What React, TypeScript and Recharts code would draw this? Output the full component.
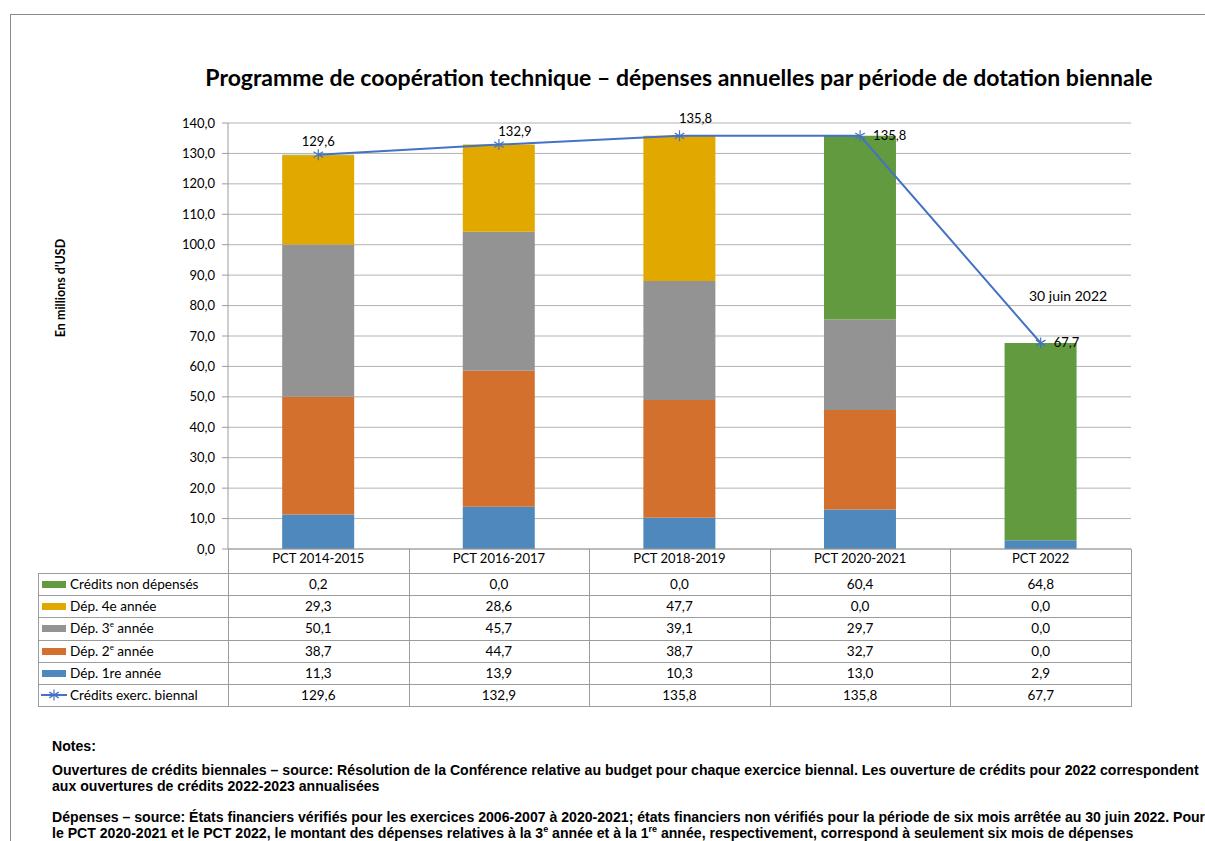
import React from "react";
import { ComposedChart, Bar, Line, XAxis, YAxis, CartesianGrid, LabelList } from "recharts";

const periods = ["PCT 2014-2015", "PCT 2016-2017", "PCT 2018-2019", "PCT 2020-2021", "PCT 2022"];
const dep1 = [11.3, 13.9, 10.3, 13.0, 2.9];
const dep2 = [38.7, 44.7, 38.7, 32.7, 0.0];
const dep3 = [50.1, 45.7, 39.1, 29.7, 0.0];
const dep4 = [29.3, 28.6, 47.7, 0.0, 0.0];
const nonDep = [0.2, 0.0, 0.0, 60.4, 64.8];
const credits = [129.6, 132.9, 135.8, 135.8, 67.7];
const yTicks = [0, 10, 20, 30, 40, 50, 60, 70, 80, 90, 100, 110, 120, 130, 140];

const C = {
  d1: "#4F88BD",
  d2: "#D4702D",
  d3: "#939393",
  d4: "#E1A800",
  nd: "#629B3F",
  line: "#4472C4",
  grid: "#B3B3B3",
  border: "#9C9C9C",
};

const FONT = "Lato, 'Open Sans', sans-serif";
const NOTE_FONT = "'Liberation Sans Narrow', 'Liberation Sans', Arial, sans-serif";

const fmt = (v: number) => v.toFixed(1).replace(".", ",");

const data = periods.map((p, i) => ({
  period: p,
  d1: dep1[i],
  d2: dep2[i],
  d3: dep3[i],
  d4: dep4[i],
  nd: nonDep[i],
  credits: credits[i],
}));

const supStyle = { fontSize: 8, lineHeight: 0 };

// table rows, top to bottom
const rows = [
  { label: <>Crédits non dépensés</>, values: nonDep, color: C.nd, line: false },
  { label: <>Dép. 4e année</>, values: dep4, color: C.d4, line: false },
  { label: <>Dép. 3<sup style={supStyle}>e</sup> année</>, values: dep3, color: C.d3, line: false },
  { label: <>Dép. 2<sup style={supStyle}>e</sup> année</>, values: dep2, color: C.d2, line: false },
  { label: <>Dép. 1re année</>, values: dep1, color: C.d1, line: false },
  { label: <>Crédits exerc. biennal</>, values: credits, color: C.line, line: true },
];

// label placement per point: [dx, dy, anchor]
const labelPos: [number, number, string][] = [
  [0, -12, "middle"],
  [16, -12, "middle"],
  [16, -16, "middle"],
  [13, 1, "start"],
  [13, 1, "start"],
];

const Star = (props: any) => {
  const { cx, cy } = props;
  if (cx == null || cy == null) return null;
  const r = 5.5;
  const d = 4.8;
  return (
    <g stroke={C.line} strokeWidth={1.2}>
      <line x1={cx} y1={cy - r} x2={cx} y2={cy + r} />
      <line x1={cx - d} y1={cy - d * 0.6} x2={cx + d} y2={cy + d * 0.6} />
      <line x1={cx - d} y1={cy + d * 0.6} x2={cx + d} y2={cy - d * 0.6} />
    </g>
  );
};

const PointLabel = (props: any) => {
  const { x, y, index, value } = props;
  const [dx, dy, anchor] = labelPos[index] || [0, -12, "middle"];
  return (
    <text x={x + dx} y={y + dy} textAnchor={anchor as any} dominantBaseline="middle" fontSize={13} fontFamily={FONT} fill="#000">
      {fmt(value)}
    </text>
  );
};

const plotLeft = 228;
const plotRight = 1131;
const colW = (plotRight - plotLeft) / periods.length;
const tableLeft = 38;
const headerTop = 549;
const rowTop = 573;
const rowH = 22.2;

export default function App() {
  const tableBottom = rowTop + rows.length * rowH;
  return (
    <div style={{ position: "relative", width: 1205, height: 841, overflow: "hidden", background: "#fff", fontFamily: FONT }}>
      <style>{"body{margin:0}"}</style>
      <div style={{ position: "absolute", left: 10, top: 14, width: 1300, height: 1000, borderTop: "1px solid #8A8A8A", borderLeft: "1px solid #8A8A8A" }} />

      <div style={{ position: "absolute", left: 0, width: 1358, top: 62, lineHeight: "30px", textAlign: "center", fontWeight: 700, fontSize: 23, whiteSpace: "nowrap" }}>
        Programme de coopération technique – dépenses annuelles par période de dotation biennale
      </div>

      <div style={{ position: "absolute", left: 60, top: 288, transform: "translate(-50%, -50%) rotate(-90deg)", fontWeight: 700, fontSize: 12.5, whiteSpace: "nowrap" }}>
        En millions d’USD
      </div>

      <div style={{ position: "absolute", left: 0, top: 0 }}>
        <ComposedChart width={1205} height={580} data={data} margin={{ top: 123, right: 74, bottom: 7, left: 168 }} barCategoryGap="30%">
          <CartesianGrid vertical={false} stroke={C.grid} />
          <XAxis
            dataKey="period"
            height={24}
            tickSize={0}
            tickMargin={5}
            axisLine={{ stroke: C.border }}
            tick={{ fontSize: 13, fill: "#000", fontFamily: FONT }}
            interval={0}
          />
          <YAxis
            width={60}
            domain={[0, 140]}
            ticks={yTicks}
            tickFormatter={fmt}
            tickSize={6}
            tickMargin={7}
            axisLine={{ stroke: C.border }}
            tickLine={{ stroke: C.border }}
            tick={{ fontSize: 13, fill: "#000", fontFamily: FONT }}
          />
          <Bar dataKey="d1" stackId="a" fill={C.d1} isAnimationActive={false} />
          <Bar dataKey="d2" stackId="a" fill={C.d2} isAnimationActive={false} />
          <Bar dataKey="d3" stackId="a" fill={C.d3} isAnimationActive={false} />
          <Bar dataKey="d4" stackId="a" fill={C.d4} isAnimationActive={false} />
          <Bar dataKey="nd" stackId="a" fill={C.nd} isAnimationActive={false} />
          <Line dataKey="credits" stroke={C.line} strokeWidth={2} dot={<Star />} activeDot={false} isAnimationActive={false}>
            <LabelList dataKey="credits" content={<PointLabel />} />
          </Line>
        </ComposedChart>
      </div>

      <div style={{ position: "absolute", left: 1029, top: 287, fontSize: 14, whiteSpace: "nowrap" }}>30 juin 2022</div>

      {/* data table grid */}
      {Array.from({ length: periods.length + 1 }).map((_, i) => (
        <div key={"v" + i} style={{ position: "absolute", left: plotLeft + i * colW, top: headerTop, width: 1, height: tableBottom - headerTop, background: C.border }} />
      ))}
      <div style={{ position: "absolute", left: tableLeft, top: rowTop, width: 1, height: tableBottom - rowTop, background: C.border }} />
      {rows.map((_, i) => (
        <div key={"h" + i} style={{ position: "absolute", left: tableLeft, top: rowTop + i * rowH, width: plotRight - tableLeft + 1, height: 1, background: C.border }} />
      ))}
      <div style={{ position: "absolute", left: tableLeft, top: tableBottom, width: plotRight - tableLeft + 1, height: 1, background: C.border }} />

      {rows.map((r, i) => {
        const top = rowTop + i * rowH;
        return (
          <React.Fragment key={"r" + i}>
            {r.line ? (
              <svg style={{ position: "absolute", left: 41, top: top + 5 }} width={28} height={12}>
                <line x1={0} y1={6} x2={26} y2={6} stroke={r.color} strokeWidth={2} />
                <Star cx={13} cy={6} />
              </svg>
            ) : (
              <div style={{ position: "absolute", left: 42, top: top + 8, width: 24, height: 7, background: r.color }} />
            )}
            <div style={{ position: "absolute", left: 70, top: top + 3, fontSize: 13.6, whiteSpace: "nowrap", lineHeight: "16px" }}>{r.label}</div>
            {r.values.map((v, j) => (
              <div key={j} style={{ position: "absolute", left: plotLeft + j * colW, width: colW, top: top + 3, fontSize: 13.5, textAlign: "center", lineHeight: "16px" }}>
                {fmt(v)}
              </div>
            ))}
          </React.Fragment>
        );
      })}

      {/* notes */}
      <div style={{ position: "absolute", left: 52, top: 738, fontFamily: NOTE_FONT, fontWeight: 700, fontSize: 14.1, lineHeight: "16px", whiteSpace: "nowrap", color: "#000" }}>
        <div>Notes:</div>
        <div style={{ marginTop: 8 }}>
          Ouvertures de crédits biennales – source: Résolution de la Conférence relative au budget pour chaque exercice biennal. Les ouverture de crédits pour 2022 correspondent
        </div>
        <div>aux ouvertures de crédits 2022-2023 annualisées</div>
        <div style={{ marginTop: 15 }}>
          Dépenses – source: États financiers vérifiés pour les exercices 2006-2007 à 2020-2021; états financiers non vérifiés pour la période de six mois arrêtée au 30 juin 2022. Pour
        </div>
        <div>
          le PCT 2020-2021 et le PCT 2022, le montant des dépenses relatives à la 3<sup style={{ fontSize: 9, lineHeight: 0 }}>e</sup> année et à la 1<sup style={{ fontSize: 9, lineHeight: 0 }}>re</sup> année, respectivement, correspond à seulement six mois de dépenses
        </div>
      </div>
    </div>
  );
}
